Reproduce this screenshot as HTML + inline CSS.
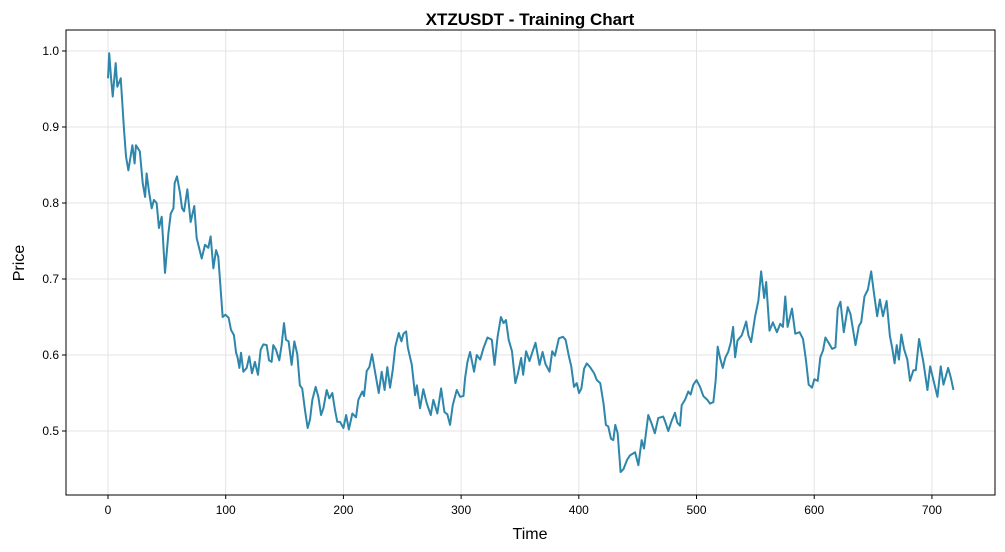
<!DOCTYPE html>
<html><head><meta charset="utf-8">
<style>
html,body{margin:0;padding:0;background:#fff;}
svg{display:block;font-family:"Liberation Sans","DejaVu Sans",sans-serif;}
</style></head>
<body>
<svg id="chart" width="1005" height="552" viewBox="0 0 1005 552" xmlns="http://www.w3.org/2000/svg">
<rect width="1005" height="552" fill="#fff"/>
<text x="530" y="25" text-anchor="middle" font-size="17" font-weight="bold" fill="#000">XTZUSDT - Training Chart</text>
<g id="grid"></g>
<g id="xticks"></g>
<g id="yticks"></g>
<path id="line" fill="none" stroke="#2e86ab" stroke-width="2" stroke-linejoin="round"/>
<rect x="66" y="30" width="929" height="465" fill="none" stroke="#000" stroke-width="1"/>
<text x="530" y="539" text-anchor="middle" font-size="16" fill="#000">Time</text>
<text x="24" y="263" text-anchor="middle" font-size="16" fill="#000" transform="rotate(-90 24 263)">Price</text>
</svg>
<script>
const xTickValues = [0,100,200,300,400,500,600,700];
const yTickValues = [0.5,0.6,0.7,0.8,0.9,1.0];
const yTickLabels = ["0.5","0.6","0.7","0.8","0.9","1.0"];
const times = [0,1,2.5,4,6.5,7.9,10.8,13.6,15.3,17.3,20.7,22.6,23.7,27,29.5,31.5,32.8,34.8,37.1,39,41.3,43.3,45.6,48.4,51.3,53.3,55.6,56.6,58.6,61.2,62.9,64.6,67.4,70.2,73.3,75.3,79.6,82.4,85.2,87.2,89.5,91.8,93.7,97.4,99.7,102.5,104.5,107,108.8,110.2,111.6,113,115,117.8,120,122.3,124.8,127.4,129.7,132,134.8,136.8,139,140.4,142.7,145.5,147.5,149.5,151.2,153.4,156,158.3,160.8,163,165,167.3,169.6,171.6,173.6,176.4,178.7,181,183,185.8,188,190.6,192.8,194.8,197.1,200,202.3,204.6,207.6,210.7,212.7,216.1,217.5,219.8,222,224.3,226.3,230,232.5,235,237.3,239.6,241.9,244.1,247,249.3,251,253.3,254.7,258.1,260.9,262.4,265.1,267.9,270.7,274.2,276.4,279.8,283,285.8,288.3,290.6,292.9,296.3,299.1,302,303.4,305.4,307.6,311,313.3,316.2,319,322.4,326.1,328.4,331,333.8,336.1,338.1,340.4,343.2,346.1,348.3,351,352.7,355.2,358.1,360.4,363.2,366.6,369.2,371.7,375.1,377.4,379.7,383.1,386.5,388.8,391.6,393.6,395.9,398.2,400.2,402.2,404.5,406.8,409.6,413,415.3,418.2,421,423,425,427.3,429.3,431,433,435.5,438,441,443.5,447.8,450.6,453.4,455.4,459,461.8,464.6,467.5,471.7,473.2,476,478.8,481.7,483.7,486,487.4,490.2,493,495,497.3,500,503,505.8,509.2,511.5,514.3,516.3,518,520,522.3,524.6,526.9,529.2,531.1,532.8,534.8,538.5,542.2,544.1,546.4,549.8,552.6,554.9,557.5,559.2,562,564.9,568.3,571.1,573.4,575.4,577.4,581.1,583.9,587.6,590.5,593,595.3,598.1,600.1,603,605.2,607.5,609.5,612.3,615.2,618,620,622.3,625.1,628.5,630.8,635.1,637.9,639.9,642.7,645.6,648.4,650.7,653.5,655.8,658.4,661.5,664.3,666.3,668.3,670.1,672,674,676.3,679.1,681.4,684.3,686.3,689.1,692.8,696.2,698.5,701.9,704.7,707.5,709.8,713.8,716.1,718.3];
const prices = [0.964,0.997,0.966,0.94,0.984,0.953,0.964,0.896,0.861,0.843,0.876,0.852,0.876,0.868,0.826,0.808,0.839,0.815,0.793,0.804,0.8,0.767,0.782,0.708,0.76,0.786,0.793,0.826,0.835,0.813,0.793,0.789,0.818,0.775,0.796,0.754,0.727,0.745,0.741,0.756,0.714,0.738,0.729,0.65,0.653,0.649,0.633,0.626,0.603,0.596,0.583,0.603,0.578,0.583,0.598,0.576,0.591,0.574,0.607,0.614,0.613,0.593,0.591,0.613,0.607,0.593,0.613,0.642,0.62,0.618,0.587,0.618,0.601,0.56,0.556,0.528,0.504,0.515,0.541,0.558,0.545,0.521,0.53,0.554,0.543,0.55,0.528,0.512,0.512,0.504,0.521,0.502,0.523,0.518,0.541,0.552,0.546,0.579,0.584,0.601,0.583,0.55,0.578,0.554,0.584,0.557,0.58,0.611,0.629,0.618,0.628,0.631,0.61,0.587,0.547,0.56,0.53,0.555,0.537,0.521,0.541,0.523,0.556,0.525,0.522,0.508,0.534,0.554,0.545,0.546,0.57,0.591,0.604,0.578,0.6,0.594,0.609,0.623,0.62,0.587,0.624,0.65,0.642,0.646,0.62,0.605,0.563,0.576,0.596,0.574,0.605,0.592,0.603,0.616,0.587,0.604,0.588,0.578,0.605,0.599,0.622,0.624,0.62,0.598,0.585,0.558,0.563,0.55,0.556,0.582,0.589,0.584,0.576,0.567,0.563,0.536,0.508,0.506,0.49,0.488,0.508,0.497,0.446,0.45,0.462,0.468,0.472,0.455,0.488,0.477,0.521,0.51,0.497,0.517,0.519,0.513,0.5,0.513,0.524,0.511,0.507,0.534,0.541,0.552,0.548,0.561,0.567,0.558,0.546,0.541,0.536,0.538,0.567,0.611,0.596,0.583,0.597,0.604,0.617,0.637,0.597,0.619,0.626,0.644,0.626,0.617,0.651,0.672,0.71,0.675,0.696,0.632,0.643,0.63,0.641,0.637,0.677,0.637,0.661,0.628,0.63,0.621,0.593,0.561,0.557,0.568,0.566,0.597,0.606,0.623,0.616,0.608,0.61,0.661,0.67,0.63,0.663,0.654,0.613,0.638,0.643,0.677,0.686,0.71,0.682,0.651,0.673,0.651,0.671,0.625,0.609,0.589,0.613,0.594,0.627,0.608,0.594,0.566,0.58,0.58,0.621,0.59,0.554,0.585,0.563,0.545,0.585,0.561,0.583,0.57,0.554];

const X0=66, X1=995, Y0=30, Y1=495;
const xMin=-35.7, xMax=753.6, yMin=0.4158, yMax=1.0276;
function xScale(t){return X0+(t-xMin)/(xMax-xMin)*(X1-X0);}
function yScale(v){return Y1-(v-yMin)/(yMax-yMin)*(Y1-Y0);}
const NS="http://www.w3.org/2000/svg";
const grid=document.getElementById('grid');
const xt=document.getElementById('xticks');
const yt=document.getElementById('yticks');
xTickValues.forEach(function(t){
  const x=xScale(t);
  const g=document.createElementNS(NS,'line');
  g.setAttribute('x1',x);g.setAttribute('x2',x);g.setAttribute('y1',Y0);g.setAttribute('y2',Y1);
  g.setAttribute('stroke','#e3e3e3');g.setAttribute('stroke-width','1');
  
  
  grid.appendChild(g);
  const tk=document.createElementNS(NS,'line');
  tk.setAttribute('x1',x);tk.setAttribute('x2',x);tk.setAttribute('y1',Y1);tk.setAttribute('y2',Y1+4);
  tk.setAttribute('stroke','#000');
  
  
  xt.appendChild(tk);
  const tx=document.createElementNS(NS,'text');
  tx.setAttribute('x',x);tx.setAttribute('y',Y1+19);tx.setAttribute('text-anchor','middle');tx.setAttribute('font-size','12');
  tx.textContent=String(t);
  
  
  xt.appendChild(tx);
});
yTickValues.forEach(function(v,i){
  const y=yScale(v);
  const g=document.createElementNS(NS,'line');
  g.setAttribute('x1',X0);g.setAttribute('x2',X1);g.setAttribute('y1',y);g.setAttribute('y2',y);
  g.setAttribute('stroke','#e3e3e3');g.setAttribute('stroke-width','1');
  
  
  grid.appendChild(g);
  const tk=document.createElementNS(NS,'line');
  tk.setAttribute('x1',X0-4);tk.setAttribute('x2',X0);tk.setAttribute('y1',y);tk.setAttribute('y2',y);
  tk.setAttribute('stroke','#000');
  
  
  yt.appendChild(tk);
  const tx=document.createElementNS(NS,'text');
  tx.setAttribute('x',X0-7);tx.setAttribute('y',y+4);tx.setAttribute('text-anchor','end');tx.setAttribute('font-size','12');
  tx.textContent=yTickLabels[i];
  
  
  yt.appendChild(tx);
});
let d='';
times.forEach(function(t,i){d+=(i?'L':'M')+xScale(t).toFixed(2)+','+yScale(prices[i]).toFixed(2);});
document.getElementById('line').setAttribute('d',d);
</script>
</body></html>
